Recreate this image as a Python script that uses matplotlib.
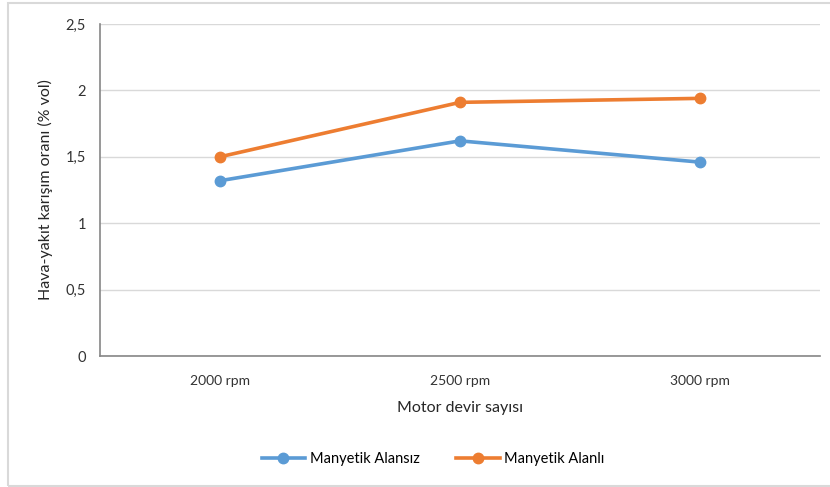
import matplotlib.pyplot as plt
from matplotlib.patches import Rectangle

plt.rcParams['font.family'] = ['Lato', 'DejaVu Sans']

# hava-yakıt karışım oranı, motor devrine göre
categories = ['2000 rpm', '2500 rpm', '3000 rpm']
alansiz = [1.32, 1.62, 1.46]
alanli = [1.50, 1.91, 1.94]
yticks = [0, 0.5, 1, 1.5, 2, 2.5]
ytick_labels = ['0', '0,5', '1', '1,5', '2', '2,5']

fig = plt.figure(figsize=(8.3, 4.87), dpi=100)
ax = fig.add_axes([100/830, 131/487, 720/830, 332/487])

x = range(len(categories))
ax.plot(x, alansiz, color='#5B9BD5', lw=2.6, marker='o', ms=7.5, label='Manyetik Alansız')
ax.plot(x, alanli, color='#ED7D31', lw=2.6, marker='o', ms=7.5, label='Manyetik Alanlı')

ax.set_xlim(-0.5, 2.5)
ax.set_ylim(0, 2.5)
ax.set_xticks(list(x))
ax.set_xticklabels(categories, fontsize=10, color='#333333')
ax.set_yticks(yticks)
ax.set_yticklabels(ytick_labels, fontsize=10.5, color='#333333')
ax.tick_params(length=0, pad=10)
ax.tick_params(axis='x', pad=14)
ax.grid(axis='y', color='#D9D9D9', lw=1)
ax.set_axisbelow(True)

for s in ['top', 'right']:
    ax.spines[s].set_visible(False)
ax.spines['left'].set_color('#868686')
ax.spines['bottom'].set_color('#868686')
ax.spines['left'].set_linewidth(1.2)
ax.spines['bottom'].set_linewidth(1.2)

ax.set_xlabel('Motor devir sayısı', fontsize=11.5, color='#262626', labelpad=10)
ax.set_ylabel('Hava-yakıt karışım oranı (% vol)', fontsize=11.5, color='#262626', labelpad=9)

fig.legend(loc='center', bbox_to_anchor=(433/830, 1 - 459/487), ncol=2, frameon=False,
           fontsize=10.5, handlelength=3, columnspacing=2.5, handletextpad=0.3)

# çerçeve
fig.patches.append(Rectangle((8/830, 1/487), 830/830, 483/487, transform=fig.transFigure,
                             fill=False, edgecolor='#D9D9D9', lw=1.5))

fig.savefig('out.png', dpi=100)
